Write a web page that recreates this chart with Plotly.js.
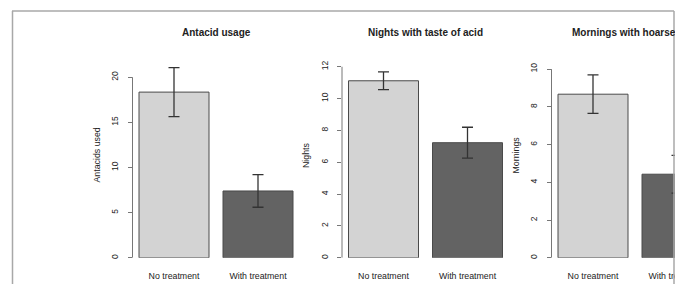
<!DOCTYPE html>
<html><head><meta charset="utf-8">
<script src="https://cdn.plot.ly/plotly-3.0.1.min.js"></script>
<style>
html,body{margin:0;padding:0;background:#fff;overflow:hidden;}
#clip{position:absolute;left:0;top:0;width:675px;height:284px;overflow:hidden;}
#chart{width:720px;height:284px;}
</style></head><body>
<div id="clip"><div id="chart"></div></div>
<script>
const categories = ['No treatment', 'With treatment'];
const antacidMean = [18.35, 7.40];
const antacidErr = [2.72, 1.80];
const nightsMean = [11.12, 7.23];
const nightsErr = [0.56, 0.97];
const morningsMean = [8.67, 4.43];
const morningsErr = [1.02, 1.00];
const panelTitles = ['Antacid usage', 'Nights with taste of acid', 'Mornings with hoarseness'];
const yTitles = ['Antacids used', 'Nights', 'Mornings'];
const antacidTicks = [0, 5, 10, 15, 20];
const nightsTicks = [0, 2, 4, 6, 8, 10, 12];
const morningsTicks = [0, 2, 4, 6, 8, 10];

const W = 720, H = 284;
const FONT = 'Liberation Sans, Arial, sans-serif';
const panels = [
  {mean: antacidMean, err: antacidErr, ticks: antacidTicks, center: 216, ppu: 9.03},
  {mean: nightsMean, err: nightsErr, ticks: nightsTicks, center: 425.5, ppu: 15.92},
  {mean: morningsMean, err: morningsErr, ticks: morningsTicks, center: 635, ppu: 18.87}
];
const zeroPx = 257.8, topPx = 60, halfW = 83.5, xUnit = 84;

const data = [];
const layout = {
  width: W, height: H, margin: {l: 0, r: 0, t: 0, b: 0},
  paper_bgcolor: '#fff', plot_bgcolor: 'rgba(0,0,0,0)',
  showlegend: false, bargap: 1/6,
  font: {family: FONT, color: '#222'},
  annotations: [], shapes: []
};

panels.forEach((p, i) => {
  const n = i === 0 ? '' : String(i + 1);
  const xa = 'x' + n, ya = 'y' + n;
  data.push({
    type: 'bar', x: categories, y: p.mean, xaxis: xa, yaxis: ya,
    marker: {color: ['#d3d3d3', '#636363'], line: {color: '#4a4a4a', width: 1}},
    error_y: {type: 'data', array: p.err, visible: true, color: '#333', thickness: 1.3, width: 5.5},
    hoverinfo: 'skip'
  });
  const half = halfW / xUnit;
  layout['xaxis' + n] = {
    domain: [(p.center - halfW) / W, (p.center + halfW) / W],
    range: [0.5 - half, 0.5 + half],
    anchor: ya, showgrid: false, zeroline: false, showline: false,
    ticks: '', tickfont: {size: 8.8, color: '#222', family: FONT},
    ticklabelstandoff: 11, fixedrange: true
  };
  layout['yaxis' + n] = {
    domain: [(H - zeroPx) / H, (H - topPx) / H],
    range: [0, (zeroPx - topPx) / p.ppu],
    anchor: xa, showgrid: false, zeroline: false, showline: false,
    tickmode: 'array', tickvals: p.ticks, ticktext: p.ticks.map(String),
    ticks: 'outside', ticklen: 4, tickcolor: '#777', tickwidth: 1,
    tickangle: -90, tickfont: {size: 8.5, color: '#222', family: FONT},
    ticklabelstandoff: 6, fixedrange: true
  };
  layout.shapes.push({
    type: 'line', xref: xa + ' domain', yref: ya,
    x0: 0, x1: 0, y0: p.ticks[0], y1: p.ticks[p.ticks.length - 1],
    line: {color: '#777', width: 1}
  });
  layout.annotations.push({
    xref: 'paper', yref: 'paper', x: p.center / W, y: (H - 33) / H,
    text: '<b>' + panelTitles[i] + '</b>', showarrow: false,
    xanchor: 'center', yanchor: 'middle',
    font: {size: 10, color: '#222', family: FONT}
  });
  layout.annotations.push({
    xref: 'paper', yref: 'paper', x: (p.center - halfW - 36) / W, y: (H - 155) / H,
    text: yTitles[i], showarrow: false, textangle: -90,
    xanchor: 'center', yanchor: 'middle',
    font: {size: 8.8, color: '#222', family: FONT}
  });
});

// screenshot frame
const frame = {color: '#a8a8a8', width: 1.5};
layout.shapes.push({type: 'line', xref: 'paper', yref: 'paper', x0: 12 / W, x1: 674 / W, y0: (H - 11) / H, y1: (H - 11) / H, line: frame});
layout.shapes.push({type: 'line', xref: 'paper', yref: 'paper', x0: 12.5 / W, x1: 12.5 / W, y0: 0, y1: (H - 11) / H, line: frame});
layout.shapes.push({type: 'line', xref: 'paper', yref: 'paper', x0: 674 / W, x1: 674 / W, y0: 0, y1: (H - 11) / H, line: frame});

Plotly.newPlot('chart', data, layout, {displayModeBar: false, staticPlot: true});
</script>
</body></html>
